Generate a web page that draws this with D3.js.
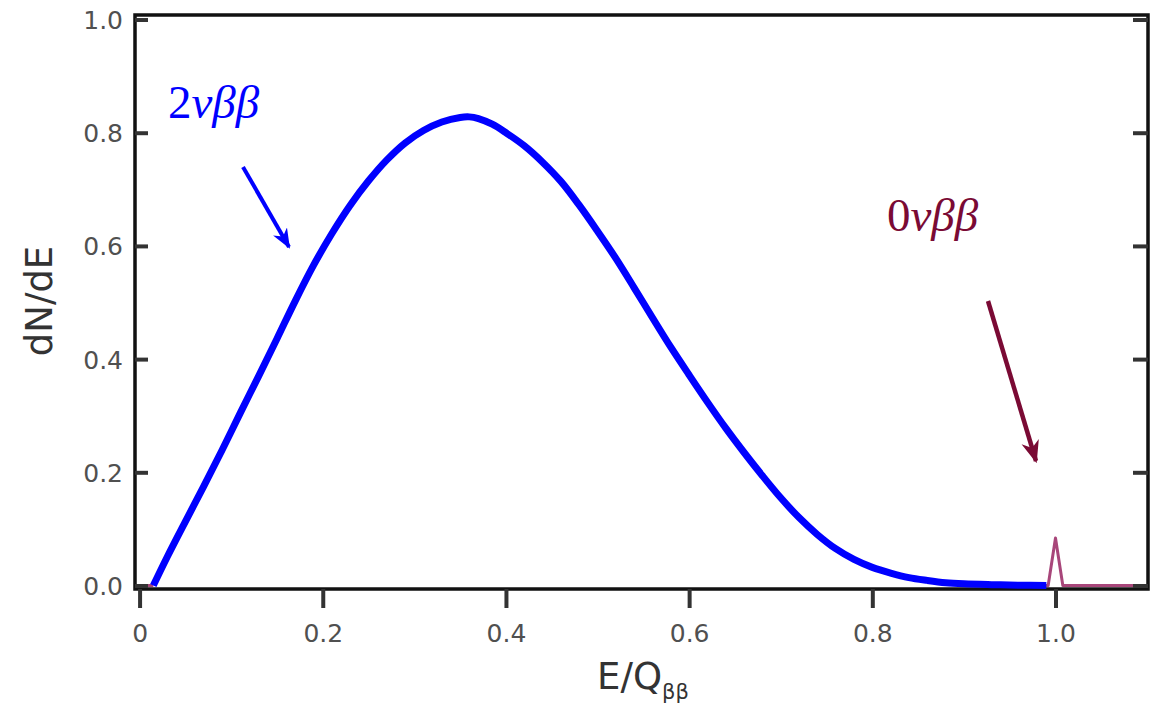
<!DOCTYPE html>
<html>
<head>
<meta charset="utf-8">
<script src="https://cdn.jsdelivr.net/npm/d3@7"></script>
<style>
  html, body { margin: 0; padding: 0; background: #fff; }
  svg { display: block; }
</style>
</head>
<body>
<svg id="chart" width="1152" height="704"></svg>
<script>
// ---- data ----
const twoNuE = [0.015, 0.03, 0.05, 0.07, 0.09, 0.11, 0.13, 0.15, 0.17, 0.19, 0.21, 0.23, 0.25, 0.27, 0.29, 0.31, 0.33, 0.35, 0.36, 0.37,
                0.385, 0.40, 0.42, 0.44, 0.46, 0.48, 0.50, 0.52, 0.54, 0.56, 0.58, 0.60, 0.62, 0.64, 0.66, 0.68, 0.70, 0.72, 0.74, 0.76, 0.78,
                0.80, 0.82, 0.84, 0.86, 0.88, 0.90, 0.93, 0.96, 0.99];
const twoNuN = [0.000, 0.050, 0.113, 0.175, 0.239, 0.305, 0.370, 0.436, 0.503, 0.566, 0.622, 0.672, 0.715, 0.752, 0.782, 0.804, 0.819, 0.827, 0.828, 0.825,
                0.815, 0.800, 0.777, 0.748, 0.714, 0.672, 0.626, 0.578, 0.526, 0.473, 0.421, 0.372, 0.324, 0.278, 0.235, 0.194, 0.155, 0.120, 0.090, 0.065, 0.046,
                0.032, 0.022, 0.014, 0.009, 0.005, 0.003, 0.0015, 0.0005, 0.000];
// 0νββ line: visible near E=0 and around the peak at E = Q (null = gap hidden under the 2νββ curve / axis)
const zeroNuE = [-0.005, 0.015, 0.5, 0.975, 0.992, 1.000, 1.008, 1.101];
const zeroNuN = [0.000, 0.000, null, 0.000, 0.000, 0.084, 0.000, 0.000];
const xTicks = [0, 0.2, 0.4, 0.6, 0.8, 1.0];
const xTickLabels = ["0", "0.2", "0.4", "0.6", "0.8", "1.0"];
const yTicks = [0, 0.2, 0.4, 0.6, 0.8, 1.0];
const yTickLabels = ["0.0", "0.2", "0.4", "0.6", "0.8", "1.0"];

// ---- layout ----
const svg = d3.select("#chart");
const L = 135, R = 1148, T = 15, B = 589;
const x = d3.scaleLinear().domain([-0.005, 1.101]).range([L, R]);
const y = d3.scaleLinear().domain([0, 1.008]).range([585.5, T]);

const tickColor = "#333";
const labelColor = "#505050";
const sans = "'DejaVu Sans', sans-serif";

const line = d3.line().x(d => x(d[0])).y(d => y(d[1])).curve(d3.curveCatmullRom.alpha(0.5));
const lineLin = d3.line().defined(d => d[1] != null).x(d => x(d[0])).y(d => y(d[1]));

// frame
svg.append("rect")
  .attr("x", L).attr("y", T).attr("width", R - L).attr("height", B - T)
  .attr("fill", "none").attr("stroke", "#111").attr("stroke-width", 3.5);

// ---- series ----
svg.append("path")
  .datum(zeroNuE.map((e, i) => [e, zeroNuN[i]]))
  .attr("d", lineLin)
  .attr("fill", "none").attr("stroke", "#a8467a").attr("stroke-width", 3)
  .attr("stroke-linejoin", "round");

svg.append("path")
  .datum(twoNuE.map((e, i) => [e, twoNuN[i]]))
  .attr("d", line)
  .attr("fill", "none").attr("stroke", "#0000ff").attr("stroke-width", 7)
  .attr("stroke-linecap", "butt").attr("stroke-linejoin", "round");

// left axis (inward ticks)
const yAxisL = d3.axisLeft(y).tickValues(yTicks)
  .tickFormat((d, i) => yTickLabels[i]).tickSize(-13).tickPadding(12);
const gL = svg.append("g").attr("transform", `translate(${L},0)`).call(yAxisL);
gL.select(".domain").remove();
gL.selectAll(".tick line").attr("stroke", tickColor).attr("stroke-width", 4);
gL.selectAll(".tick text").attr("fill", labelColor).attr("font-family", sans)
  .attr("font-size", 25).attr("dy", "0.36em");

// right axis (inward ticks, no labels)
const yAxisR = d3.axisRight(y).tickValues(yTicks).tickFormat("").tickSize(-15);
const gR = svg.append("g").attr("transform", `translate(${R},0)`).call(yAxisR);
gR.select(".domain").remove();
gR.selectAll(".tick line").attr("stroke", tickColor).attr("stroke-width", 4);

// bottom axis (outward ticks)
const xAxis = d3.axisBottom(x).tickValues(xTicks)
  .tickFormat((d, i) => xTickLabels[i]).tickSize(19).tickPadding(16);
const gB = svg.append("g").attr("transform", `translate(0,${B})`).call(xAxis);
gB.select(".domain").remove();
gB.selectAll(".tick line").attr("stroke", tickColor).attr("stroke-width", 4);
gB.selectAll(".tick text").attr("fill", labelColor).attr("font-family", sans)
  .attr("font-size", 25);

// ---- annotations ----
const defs = svg.append("defs");
function marker(id, color) {
  defs.append("marker").attr("id", id)
    .attr("viewBox", "0 0 10 10").attr("refX", 9).attr("refY", 5)
    .attr("markerWidth", 5).attr("markerHeight", 5)
    .attr("markerUnits", "strokeWidth").attr("orient", "auto")
    .append("path").attr("d", "M0,1 L10,5 L0,9 L3,5 Z").attr("fill", color);
}
marker("arrBlue", "#0000ff");
marker("arrMaroon", "#7a0a34");

svg.append("line").attr("x1", 243).attr("y1", 167).attr("x2", 289).attr("y2", 247)
  .attr("stroke", "#0000ff").attr("stroke-width", 4).attr("marker-end", "url(#arrBlue)");
svg.append("line").attr("x1", 988).attr("y1", 301).attr("x2", 1036).attr("y2", 461)
  .attr("stroke", "#7a0a34").attr("stroke-width", 4.5).attr("marker-end", "url(#arrMaroon)");

const serif = "'Liberation Serif', 'Times New Roman', serif";
const t1 = svg.append("text").attr("x", 168).attr("y", 118)
  .attr("font-family", serif).attr("font-size", 47).attr("fill", "#0000ff");
t1.append("tspan").text("2");
t1.append("tspan").attr("font-style", "italic").text("νββ");

const t2 = svg.append("text").attr("x", 887).attr("y", 231)
  .attr("font-family", serif).attr("font-size", 47).attr("fill", "#7a0a34");
t2.append("tspan").text("0");
t2.append("tspan").attr("font-style", "italic").text("νββ");

// axis titles
svg.append("text")
  .attr("transform", "translate(52,301) rotate(-90)")
  .attr("text-anchor", "middle")
  .attr("font-family", sans).attr("font-size", 37).attr("fill", "#333")
  .text("dN/dE");

const xt = svg.append("text").attr("x", 643).attr("y", 689)
  .attr("text-anchor", "middle")
  .attr("font-family", sans).attr("font-size", 37).attr("fill", "#333");
xt.append("tspan").text("E/Q");
xt.append("tspan").attr("font-size", 21).attr("dy", 10).text("ββ");
</script>
</body>
</html>
